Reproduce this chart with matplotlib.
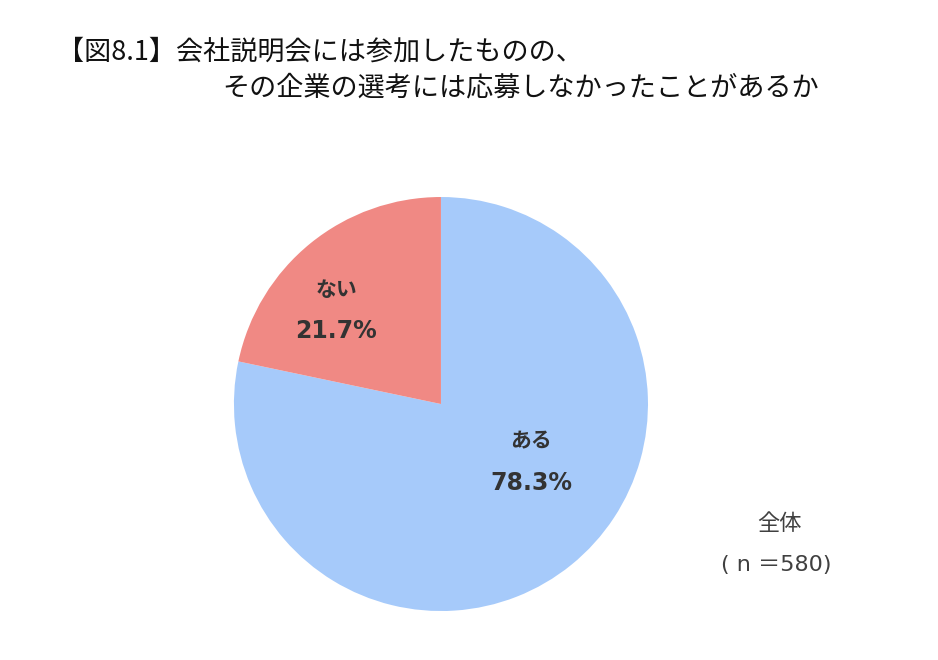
import matplotlib.pyplot as plt

plt.rcParams['font.family'] = ['Noto Sans CJK JP', 'DejaVu Sans']

# data
labels = ["ある", "ない"]
values = [78.3, 21.7]
colors = ["#A6CAFA", "#F08984"]
n_total = 580

fig = plt.figure(figsize=(9.38, 6.6), dpi=100)

# title (two lines, second indented)
fig.text(57/938, 1-52/660, "【図8.1】会社説明会には参加したものの、", fontsize=19.5,
         va="center", ha="left", color="#111111")
fig.text(222/938, 1-88/660, "その企業の選考には応募しなかったことがあるか", fontsize=19.5,
         va="center", ha="left", color="#111111")

ax = fig.add_axes([0.2494, 0.0742, 0.4414, 0.6273])
wedges, _ = ax.pie(values, colors=colors, startangle=90, counterclock=False,
                   wedgeprops=dict(linewidth=0))
ax.set_xlim(-1, 1)
ax.set_ylim(-1, 1)
ax.set_aspect("auto")
ax.axis("off")

# label positions (inside the wedges)
label_pos = [(0.435, -0.28), (-0.505, 0.455)]
for (x, y), lab, v in zip(label_pos, labels, values):
    ax.text(x, y + 0.1, lab, ha="center", va="center", fontsize=15,
            fontweight="bold", color="#333333")
    ax.text(x, y - 0.1, f"{v:.1f}%", ha="center", va="center", fontsize=17,
            fontweight="bold", color="#333333",
            family=['DejaVu Sans', 'Noto Sans CJK JP'])

fig.text(779/938, 1-523/660, "全体", fontsize=16, ha="center", va="center",
         color="#404040")
fig.text(776/938, 1-565/660, f"( n ＝{n_total})", fontsize=16, ha="center",
         va="center", color="#404040", family=['DejaVu Sans', 'Noto Sans CJK JP'])

fig.savefig("out.png", dpi=100)
